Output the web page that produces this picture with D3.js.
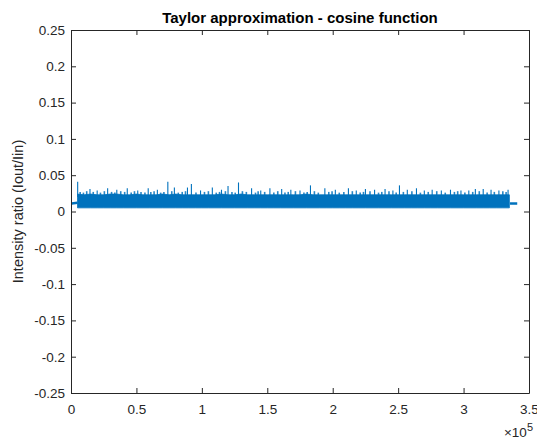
<!DOCTYPE html>
<html>
<head>
<meta charset="utf-8">
<script src="https://cdn.jsdelivr.net/npm/d3@7/dist/d3.min.js"></script>
<style>
  html, body { margin: 0; padding: 0; background: #ffffff; }
  svg { display: block; font-family: "Liberation Sans", Arial, Helvetica, sans-serif; }
</style>
</head>
<body>
<svg id="chart" width="537" height="439"></svg>
<script>
// ---- data ----
const chartTitle = "Taylor approximation - cosine function";
const yLabel = "Intensity ratio (Iout/Iin)";
const xTicks = [0, 50000, 100000, 150000, 200000, 250000, 300000, 350000];
const xTickLabels = ["0", "0.5", "1", "1.5", "2", "2.5", "3", "3.5"];
const yTicks = [-0.25, -0.2, -0.15, -0.1, -0.05, 0, 0.05, 0.1, 0.15, 0.2, 0.25];
const yTickLabels = ["-0.25", "-0.2", "-0.15", "-0.1", "-0.05", "0", "0.05", "0.1", "0.15", "0.2", "0.25"];

// envelope of the dense noisy band (sample index, top and bottom of the solid band)
const bandX = [5000, 10000, 15000, 20000, 25000, 30000, 35000, 40000, 45000, 50000,
  55000, 60000, 65000, 70000, 75000, 80000, 85000, 90000, 95000, 100000,
  105000, 110000, 115000, 120000, 125000, 130000, 135000, 140000, 145000, 150000,
  155000, 160000, 165000, 170000, 175000, 180000, 185000, 190000, 195000, 200000,
  205000, 210000, 215000, 220000, 225000, 230000, 235000, 240000, 245000, 250000,
  255000, 260000, 265000, 270000, 275000, 280000, 285000, 290000, 295000, 300000,
  305000, 310000, 315000, 320000, 325000, 330000, 335000];
const bandTop = [0.024, 0.023, 0.024, 0.023, 0.023, 0.024, 0.024, 0.023, 0.023, 0.024,
  0.023, 0.023, 0.023, 0.024, 0.023, 0.024, 0.023, 0.023, 0.023, 0.023,
  0.023, 0.023, 0.024, 0.023, 0.023, 0.024, 0.023, 0.023, 0.023, 0.023,
  0.023, 0.023, 0.023, 0.023, 0.023, 0.024, 0.023, 0.023, 0.023, 0.023,
  0.023, 0.023, 0.023, 0.023, 0.023, 0.023, 0.023, 0.023, 0.023, 0.023,
  0.023, 0.023, 0.023, 0.023, 0.023, 0.023, 0.023, 0.023, 0.023, 0.023,
  0.023, 0.023, 0.023, 0.023, 0.023, 0.023, 0.023];
const bandBottom = [0.005, 0.005, 0.005, 0.005, 0.005, 0.005, 0.005, 0.005, 0.005, 0.005,
  0.005, 0.005, 0.005, 0.005, 0.005, 0.005, 0.005, 0.005, 0.005, 0.005,
  0.005, 0.005, 0.005, 0.005, 0.005, 0.005, 0.005, 0.005, 0.005, 0.005,
  0.005, 0.005, 0.005, 0.005, 0.005, 0.005, 0.005, 0.005, 0.005, 0.005,
  0.005, 0.005, 0.005, 0.005, 0.005, 0.005, 0.005, 0.005, 0.005, 0.005,
  0.005, 0.005, 0.005, 0.005, 0.005, 0.005, 0.005, 0.005, 0.005, 0.005,
  0.005, 0.005, 0.005, 0.005, 0.005, 0.005, 0.005];

// short excursions forming the ragged top of the band (sample index, peak value)
const fringeX = [7000, 9500, 12000, 17000, 22500, 25500, 31000, 33500, 38000, 41000,
  46000, 48500, 53500, 56500, 61000, 63500, 68500, 71000, 77000, 82000,
  85000, 87500, 95500, 102000, 105000, 111000, 113500, 118000, 123000, 125500,
  131000, 134000, 141000, 143000, 148000, 155000, 158000, 163500, 166000, 171500,
  178000, 180500, 186000, 189000, 197000, 199500, 205000, 208500, 215000, 221000,
  223500, 228500, 235000, 237500, 243000, 248500, 254000, 260500, 267000, 273000,
  279500, 286000, 293000, 295500, 301000, 307000, 312000, 318000, 323500, 330000, 332500];
const fringeY = [0.027, 0.026, 0.028, 0.027, 0.026, 0.028, 0.027, 0.026, 0.028, 0.027,
  0.026, 0.028, 0.027, 0.026, 0.027, 0.028, 0.026, 0.027, 0.028, 0.026,
  0.027, 0.028, 0.026, 0.027, 0.028, 0.026, 0.027, 0.028, 0.027, 0.026,
  0.028, 0.027, 0.026, 0.028, 0.027, 0.026, 0.028, 0.026, 0.027, 0.028,
  0.026, 0.027, 0.028, 0.026, 0.027, 0.028, 0.026, 0.027, 0.028, 0.026,
  0.027, 0.028, 0.026, 0.027, 0.028, 0.026, 0.027, 0.028, 0.026, 0.027,
  0.028, 0.026, 0.027, 0.028, 0.026, 0.027, 0.028, 0.026, 0.027, 0.028, 0.027];

// isolated spikes above the band (sample index, peak value)
const spikeX = [5100, 14500, 20000, 28000, 35000, 43000, 51000, 59000, 66000, 74000,
  79000, 89000, 92000, 99000, 108000, 115000, 120000, 128000, 138000, 145000,
  152000, 161000, 168000, 175000, 183000, 194000, 202000, 212000, 218000, 225000,
  232000, 240000, 246000, 251000, 257000, 264000, 270000, 276000, 283000, 290000,
  298000, 304000, 309000, 315000, 321000, 327000, 334000];
const spikeY = [0.041, 0.031, 0.029, 0.032, 0.030, 0.032, 0.029, 0.032, 0.030, 0.041,
  0.033, 0.033, 0.038, 0.029, 0.033, 0.030, 0.035, 0.040, 0.032, 0.029,
  0.032, 0.031, 0.030, 0.029, 0.036, 0.032, 0.030, 0.032, 0.029, 0.031,
  0.030, 0.031, 0.029, 0.036, 0.030, 0.032, 0.029, 0.030, 0.029, 0.030,
  0.029, 0.029, 0.031, 0.031, 0.030, 0.029, 0.030];

// flat pieces at the start and end of the record
const leadX = [500, 5000];
const leadY = [0.011, 0.012];
const tailX = [335500, 341000];
const tailY = [0.011, 0.011];

// ---- drawing ----
const svg = d3.select("#chart");
const L = 71, R = 529, T = 30, B = 393;
const x = d3.scaleLinear().domain([0, 350000]).range([L, R]);
const y = d3.scaleLinear().domain([-0.25, 0.25]).range([B, T]);
const axisColor = "#262626";
const blue = "#0072BD";
const tickFont = 13.5;

// band
const band = bandX.map((v, i) => ({ x: v, top: bandTop[i], bot: bandBottom[i] }));
svg.append("path")
  .datum(band)
  .attr("fill", blue)
  .attr("stroke", blue)
  .attr("stroke-width", 0.8)
  .attr("d", d3.area().x(d => x(d.x)).y0(d => y(d.bot)).y1(d => y(d.top)));

// ragged fringe
svg.append("g").selectAll("line")
  .data(fringeX.map((v, i) => ({ x: v, p: fringeY[i] })))
  .join("line")
  .attr("x1", d => x(d.x)).attr("x2", d => x(d.x))
  .attr("y1", y(0.022)).attr("y2", d => y(d.p))
  .attr("stroke", blue).attr("stroke-width", 1.6).attr("stroke-opacity", 0.85);

// spikes
svg.append("g").selectAll("line")
  .data(spikeX.map((v, i) => ({ x: v, p: spikeY[i] })))
  .join("line")
  .attr("x1", d => x(d.x)).attr("x2", d => x(d.x))
  .attr("y1", y(0.02)).attr("y2", d => y(d.p))
  .attr("stroke", blue).attr("stroke-width", 1.1);

// lead and tail
const ln = d3.line().x(d => x(d[0])).y(d => y(d[1]));
svg.append("path").datum(leadX.map((v, i) => [v, leadY[i]]))
  .attr("fill", "none").attr("stroke", blue).attr("stroke-width", 2.5).attr("d", ln);
svg.append("path").datum(tailX.map((v, i) => [v, tailY[i]]))
  .attr("fill", "none").attr("stroke", blue).attr("stroke-width", 2.5).attr("d", ln);

// axes (box with inward ticks)
function styleAxis(g) {
  g.select(".domain").attr("stroke", axisColor);
  g.selectAll(".tick line").attr("stroke", axisColor);
  g.selectAll(".tick text").attr("fill", axisColor).attr("font-size", tickFont)
    .attr("font-family", "'Liberation Sans', Arial, sans-serif");
}
const gx = svg.append("g").attr("transform", `translate(0,${B})`)
  .call(d3.axisBottom(x).tickValues(xTicks).tickSize(-5).tickSizeOuter(0).tickPadding(11)
    .tickFormat((d, i) => xTickLabels[i]));
styleAxis(gx);
const gxt = svg.append("g").attr("transform", `translate(0,${T})`)
  .call(d3.axisTop(x).tickValues(xTicks).tickSize(-5).tickSizeOuter(0).tickFormat(""));
styleAxis(gxt);
const gy = svg.append("g").attr("transform", `translate(${L},0)`)
  .call(d3.axisLeft(y).tickValues(yTicks).tickSize(-5).tickSizeOuter(0).tickPadding(6)
    .tickFormat((d, i) => yTickLabels[i]));
styleAxis(gy);
const gyr = svg.append("g").attr("transform", `translate(${R},0)`)
  .call(d3.axisRight(y).tickValues(yTicks).tickSize(-5).tickSizeOuter(0).tickFormat(""));
styleAxis(gyr);

// title
svg.append("text")
  .attr("x", (L + R) / 2).attr("y", 23)
  .attr("text-anchor", "middle")
  .attr("font-size", 15).attr("font-weight", "bold")
  .attr("fill", "#000")
  .text(chartTitle);

// y label
svg.append("text")
  .attr("transform", `translate(23,${(T + B) / 2}) rotate(-90)`)
  .attr("text-anchor", "middle")
  .attr("font-size", 14.5)
  .attr("fill", axisColor)
  .text(yLabel);

// x exponent
const ex = svg.append("text")
  .attr("x", 533).attr("y", 437)
  .attr("text-anchor", "end")
  .attr("font-size", tickFont)
  .attr("fill", axisColor);
ex.append("tspan").text("\u00d710");
ex.append("tspan").attr("dy", -6).attr("font-size", 11).text("5");
</script>
</body>
</html>
